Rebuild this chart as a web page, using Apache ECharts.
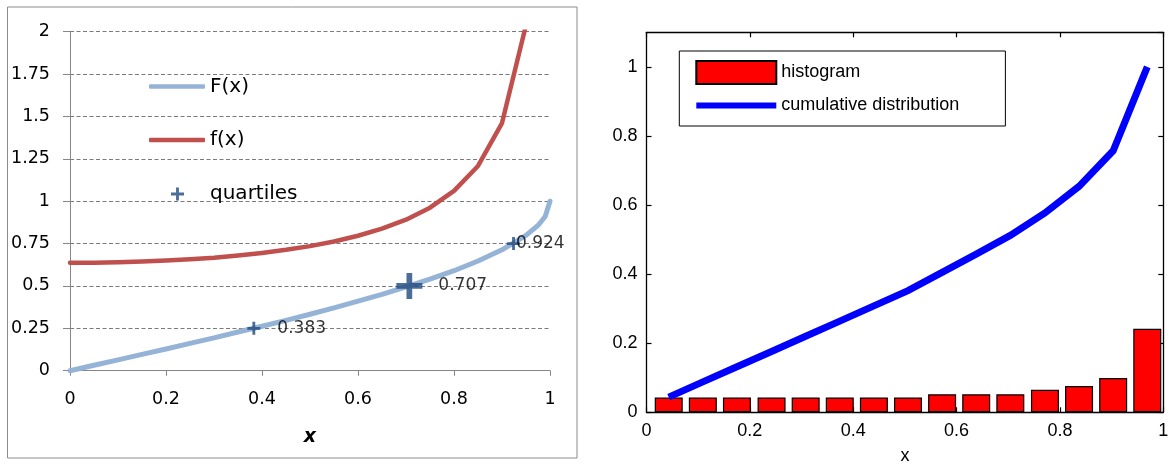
<!DOCTYPE html>
<html>
<head>
<meta charset="utf-8">
<script src="https://cdn.jsdelivr.net/npm/echarts@6/dist/echarts.min.js"></script>
<style>
html,body{margin:0;padding:0;background:#fff;}
#c{width:1169px;height:464px;}
</style>
</head>
<body>
<div id="c"></div>
<script>
// ---- Left panel data ----
const xF = [0,0.05,0.1,0.15,0.2,0.25,0.3,0.35,0.4,0.45,0.5,0.55,0.6,0.65,0.7,0.75,0.8,0.85,0.9,0.95,0.975,0.99,1];
const Fvals = [0,0.032,0.064,0.096,0.128,0.161,0.194,0.228,0.262,0.297,0.333,0.371,0.410,0.450,0.494,0.540,0.590,0.647,0.713,0.798,0.857,0.910,1];
const xf = [0,0.05,0.1,0.15,0.2,0.25,0.3,0.35,0.4,0.45,0.5,0.55,0.6,0.65,0.7,0.75,0.8,0.85,0.9,0.95];
const fvals = [0.637,0.637,0.640,0.644,0.650,0.658,0.667,0.680,0.695,0.713,0.735,0.762,0.796,0.838,0.891,0.962,1.061,1.208,1.461,2.039];
const quartX = [0.383,0.707,0.924];
const quartY = [0.25,0.5,0.75];
const quartLabels = ['0.383','0.707','0.924'];

// ---- Right panel data ----
const binCenters = [0.043,0.109,0.175,0.242,0.308,0.374,0.440,0.506,0.572,0.638,0.704,0.771,0.837,0.903,0.969];
const histVals = [0.043,0.043,0.043,0.043,0.043,0.043,0.043,0.043,0.052,0.052,0.052,0.065,0.076,0.099,0.242];
const cumulVals = [0.044,0.088,0.132,0.176,0.220,0.264,0.308,0.352,0.405,0.458,0.512,0.577,0.654,0.757,1.0];

const zip = (a,b)=>a.map((v,i)=>[v,b[i]]);

const grayAx = '#868686';
const leftFont = 'DejaVu Sans';
const rightFont = 'Liberation Sans';
const plusPath = 'path://M39,0H61V39H100V61H61V100H39V61H0V39H39Z';
const thickLineIcon = 'path://M0,0H80V0.01H0Z M0,8.5H80V14.5H0Z M0,22.99H80V23H0Z';
const quartSizes = [13,26,13];
const quartDist = [17,16,-4];

const chart = echarts.init(document.getElementById('c'), null, {renderer:'canvas'});
chart.setOption({
  animation:false,
  backgroundColor:'#fff',
  graphic:[{
    type:'rect', shape:{x:7.5,y:7,width:569.5,height:451},
    style:{fill:'none',stroke:'#8c8c8c',lineWidth:1}, silent:true, z:-10
  }],
  grid:[
    {left:70, top:31.7, width:480, height:339, containLabel:false, outerBoundsMode:'none'},
    {left:646.5, top:32.3, width:516.8, height:380, containLabel:false, outerBoundsMode:'none'}
  ],
  legend:[
    {
      data:['F(x)','f(x)'], orient:'vertical', left:149, top:76.5, padding:0,
      itemWidth:56, itemHeight:4.5, itemGap:33.6, icon:'roundRect', selectedMode:false,
      textStyle:{fontFamily:leftFont, fontSize:20, color:'#000'}
    },
    {
      data:[{name:'quartiles', icon:plusPath}], orient:'vertical', left:171, top:184, padding:0,
      itemWidth:13, itemHeight:13, selectedMode:false,
      textStyle:{fontFamily:leftFont, fontSize:20, color:'#000', padding:[0,0,0,21]}
    },
    {
      data:[{name:'histogram', icon:'rect'}, {name:'cumulative distribution', icon:thickLineIcon}],
      orient:'vertical', left:679.3, top:51, selectedMode:false,
      itemWidth:80, itemHeight:23, itemGap:9,
      padding:[9,46,9,16], borderColor:'#000', borderWidth:1, backgroundColor:'#fff',
      textStyle:{fontFamily:rightFont, fontSize:18, color:'#000'}
    }
  ],
  xAxis:[
    {
      type:'value', gridIndex:0, min:0, max:1, interval:0.2,
      name:'x', nameLocation:'middle', nameGap:57,
      nameTextStyle:{fontFamily:leftFont, fontSize:19, fontWeight:'bold', fontStyle:'italic', color:'#000'},
      axisLine:{show:true, lineStyle:{color:grayAx, width:1}},
      axisTick:{show:true, inside:false, length:5, lineStyle:{color:grayAx}},
      axisLabel:{margin:20, fontFamily:leftFont, fontSize:17.5, color:'#000'},
      splitLine:{show:false}
    },
    {
      type:'value', gridIndex:1, min:0, max:1, interval:0.2, position:'bottom',
      name:'x', nameLocation:'middle', nameGap:35,
      nameTextStyle:{fontFamily:rightFont, fontSize:18, color:'#000'},
      axisLine:{show:true, onZero:false, lineStyle:{color:'#000', width:1.3}},
      axisTick:{show:true, inside:true, length:5, lineStyle:{color:'#000', width:1.2}},
      axisLabel:{margin:10, fontFamily:rightFont, fontSize:18, color:'#000'},
      splitLine:{show:false}
    },
    {
      type:'value', gridIndex:1, min:0, max:1, interval:0.2, position:'top',
      axisLine:{show:true, onZero:false, lineStyle:{color:'#000', width:1.3}},
      axisTick:{show:true, inside:true, length:5, lineStyle:{color:'#000', width:1.2}},
      axisLabel:{show:false}, splitLine:{show:false}
    }
  ],
  yAxis:[
    {
      type:'value', gridIndex:0, min:0, max:2, interval:0.25,
      axisLine:{show:true, lineStyle:{color:grayAx, width:1}},
      axisTick:{show:true, inside:false, length:7, lineStyle:{color:grayAx}},
      axisLabel:{margin:20, fontFamily:leftFont, fontSize:17.5, color:'#000'},
      splitLine:{show:true, lineStyle:{color:'#7a7a7a', width:1.2, type:[4,2.5]}}
    },
    {
      type:'value', gridIndex:1, min:0, max:1.1, interval:0.2, position:'left',
      axisLine:{show:true, onZero:false, lineStyle:{color:'#000', width:1.3}},
      axisTick:{show:true, inside:true, length:5, lineStyle:{color:'#000', width:1.2}},
      axisLabel:{margin:9, fontFamily:rightFont, fontSize:18, color:'#000', showMaxLabel:false},
      splitLine:{show:false}
    },
    {
      type:'value', gridIndex:1, min:0, max:1.1, interval:0.2, position:'right',
      axisLine:{show:true, onZero:false, lineStyle:{color:'#000', width:1.3}},
      axisTick:{show:true, inside:true, length:5, lineStyle:{color:'#000', width:1.2}},
      axisLabel:{show:false}, splitLine:{show:false}
    }
  ],
  series:[
    {
      name:'F(x)', type:'line', xAxisIndex:0, yAxisIndex:0,
      data:zip(xF,Fvals), symbol:'none', smooth:false,
      itemStyle:{color:'#95B3D7'},
      lineStyle:{color:'#95B3D7', width:5, cap:'round', join:'round'}, z:3
    },
    {
      name:'f(x)', type:'line', xAxisIndex:0, yAxisIndex:0,
      data:zip(xf,fvals), symbol:'none', smooth:false, clip:true,
      itemStyle:{color:'#C0504D'},
      lineStyle:{color:'#C0504D', width:4.5, cap:'round', join:'round'}, z:3
    },
    {
      name:'quartiles', type:'scatter', xAxisIndex:0, yAxisIndex:0,
      symbol:plusPath, itemStyle:{color:'#1F497D'}, z:5,
      data:quartX.map((x,i)=>({
        value:[x, quartY[i]], symbolSize:quartSizes[i],
        label:{show:true, position:'right', distance:quartDist[i], formatter:quartLabels[i],
               fontFamily:leftFont, fontSize:17, color:'#000'}
      }))
    },
    {
      name:'histogram', type:'bar', xAxisIndex:1, yAxisIndex:1,
      data:zip(binCenters,histVals), barWidth:28,
      itemStyle:{color:'#FF0000', borderColor:'#000', borderWidth:1.2}, z:2
    },
    {
      name:'cumulative distribution', type:'line', xAxisIndex:1, yAxisIndex:1,
      data:zip(binCenters,cumulVals), symbol:'none',
      itemStyle:{color:'#0000FF'},
      lineStyle:{color:'#0000FF', width:7, cap:'butt', join:'miter'}, z:4
    }
  ]
});
</script>
</body>
</html>
